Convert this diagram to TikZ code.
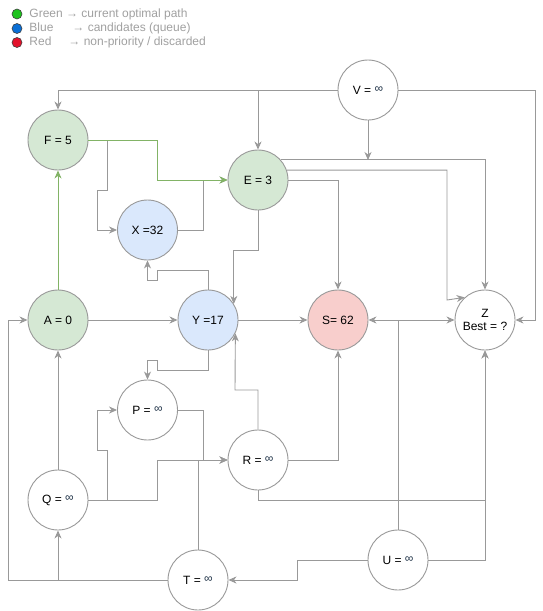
\documentclass[tikz,border=0pt]{standalone}
\usepackage{fontspec}
\setmainfont{Liberation Sans}
\usepackage{tikz}
\usepackage{xcolor}
\usetikzlibrary{positioning,arrows.meta}

\definecolor{linegray}{HTML}{999999}
\definecolor{pathgreen}{HTML}{82B366}
\definecolor{fillgreen}{HTML}{D5E8D4}
\definecolor{fillblue}{HTML}{DAE8FC}
\definecolor{fillred}{HTML}{F8CECC}
\definecolor{infblue}{HTML}{1F3247}
\definecolor{legendtext}{HTML}{A0A0A0}
\definecolor{dotgreen}{HTML}{1EC31E}
\definecolor{dotblue}{HTML}{0A6FD6}
\definecolor{dotred}{HTML}{E3122B}

\newcommand{\infval}{{\color{infblue}\raisebox{1.5pt}{∞}}}

\begin{document}
\begin{tikzpicture}[x=1pt, y=-1pt, ->, >={Stealth[length=8pt,width=7pt,inset=2.5pt]},
    line width=0.9pt, draw=linegray,
    font=\fontsize{12}{14}\selectfont,
    vertex/.style={circle, draw=linegray, fill=white, minimum size=60pt, inner sep=0pt, text=black},
    settled/.style={vertex, fill=fillgreen},
    queued/.style={vertex, fill=fillblue},
    dropped/.style={vertex, fill=fillred},
    best/.style={draw=pathgreen},
    dot/.style={-, draw=black!75, line width=0.6pt},
    legend/.style={anchor=west, text=legendtext, inner sep=0pt}]

    \useasboundingbox (0,0) rectangle (543,611);

    % legend
    \filldraw[dot, fill=dotgreen] (17,14) circle (5);
    \filldraw[dot, fill=dotblue] (17,28.5) circle (5);
    \filldraw[dot, fill=dotred] (17,42.5) circle (5);
    \node[legend] (lg) at (29,14) {Green → current optimal path};
    \node[legend] (lb) at (29,28.5) {Blue\hspace{19pt}→ candidates (queue)};
    \node[legend] (lr) at (29,42.5) {Red\hspace{17pt}→ non-priority / discarded};

    % vertices
    \node[vertex] (V) at (368,90) {V = \infval};
    \node[settled] (F) at (58,140) {F = 5};
    \node[settled] (E) at (258,180) {E = 3};
    \node[queued] (X) at (147.5,230) {X =32};
    \node[settled] (A) at (58,320) {A = 0};
    \node[queued] (Y) at (208,320) {Y =17};
    \node[dropped] (S) at (338,320) {S= 62};
    \node[vertex, align=center] (Z) at (485,320) {Z\\[-1pt]Best = ?};
    \node[vertex] (P) at (147.5,410) {P = \infval};
    \node[vertex] (R) at (258,460) {R = \infval};
    \node[vertex] (Q) at (58,500) {Q = \infval};
    \node[vertex] (U) at (398,560) {U = \infval};
    \node[vertex] (T) at (198,580) {T = \infval};

    \coordinate (vz) at (368,160);

    % edges
    \draw (V.west) -| (F.north);
    \draw (V.west) -| (E.north);
    \draw (V.east) -| (535,320) -- (Z.east);
    \draw (V.south) -- (vz);
    \draw (E.42) -| (Z.north);
    \draw (E.19.5) -| (447,300) -- (Z.132);
    \draw (E.east) -| (S.north);
    \draw (E.south) -- (258,250) -| (Y.32);
    \draw (F.east) -| (107,190) -- (97,190) |- (X.west);
    \draw (X.east) -| (203,180) -- (E.west);
    \draw (Y.north) |- (157,270) -- (157,280) -| (X.south);
    \draw (A) -- (Y);
    \draw (Y) -- (S);
    \draw (Y.south) |- (157,370) -- (157,360) -| (P.north);
    \draw (U.north) |- (S.east);
    \draw (U.north) |- (Z.west);
    \draw (U.east) -| (Z.south);
    \draw (R.south) -- (258,500) -| (Z.south);
    \draw (U.west) -| (297,580) -- (T.east);
    \draw (R.north) |- (235,390) -- (Y.-26);
    \draw (R.east) -| (S.south);
    \draw (Q) -- (A);
    \draw (Q.east) -| (107,450) -- (97,450) |- (P.west);
    \draw (Q.east) -| (157,460) -- (R.west);
    \draw (P.east) -| (203,460) -- (R.west);
    \draw (T.north) |- (R.west);
    \draw (T.west) -| (Q.south);
    \draw (T.west) -| (8,320) -- (A.west);

    % current optimal path
    \draw[best] (F.east) -| (157,180) -- (E.west);
    \draw[best] (A) -- (F);

\end{tikzpicture}
\end{document}
